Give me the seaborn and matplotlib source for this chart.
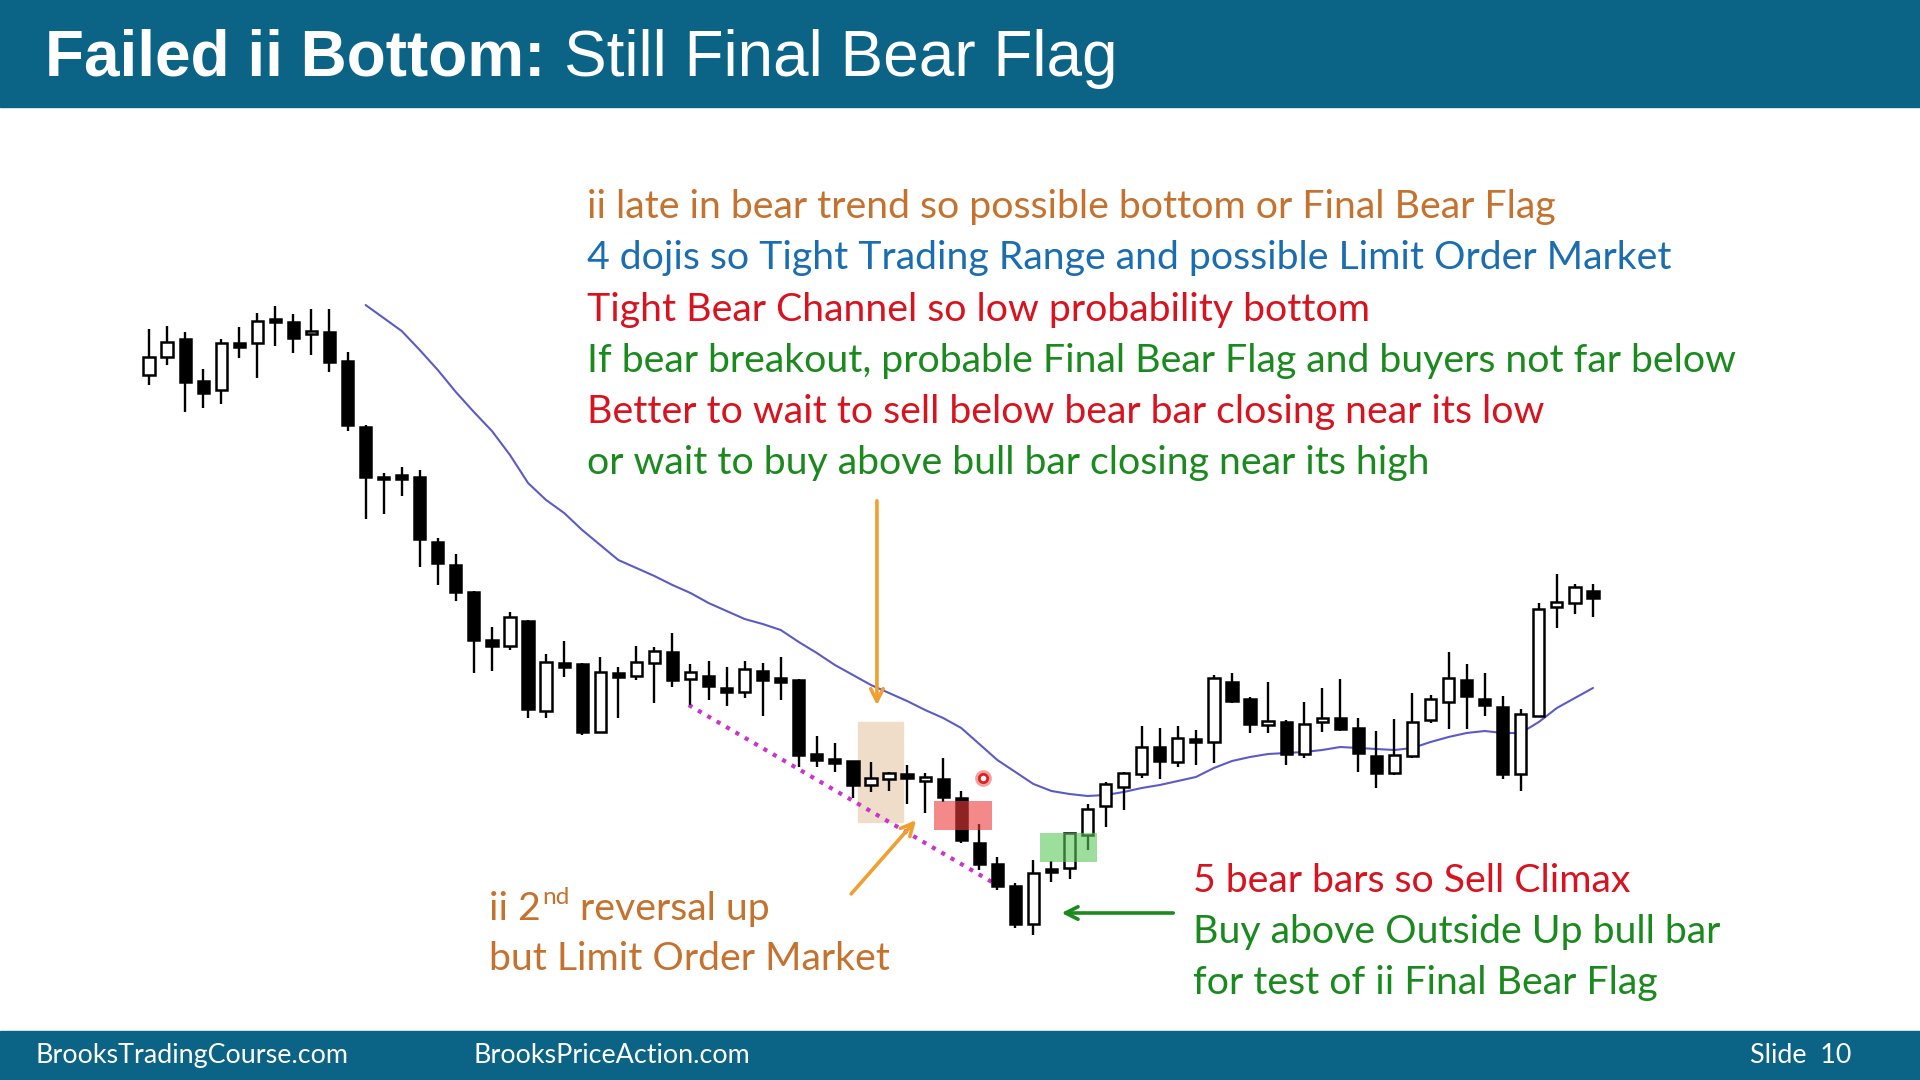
import numpy as np
import pandas as pd
import seaborn as sns
import matplotlib.pyplot as plt
from matplotlib.patches import Rectangle

# OHLC (price units = arbitrary points)
opens = [625, 643, 661, 619, 610, 657, 657, 681, 678, 666, 668, 639, 573, 523, 525, 523, 458,
         435, 408, 360, 354, 379, 289, 337, 336, 268, 327, 324, 337, 348, 321, 324, 312, 308,
         329, 322, 320, 246, 241, 239, 215, 221, 226, 219, 221, 202, 157, 136, 114, 76, 131,
         132, 165, 194, 213, 226, 253, 238, 261, 258, 318, 301, 275, 278, 246, 278, 282, 272,
         244, 227, 244, 280, 298, 320, 301, 293, 226, 284, 393, 397, 409]
highs = [671, 674, 668, 631, 661, 673, 687, 694, 686, 691, 691, 648, 575, 527, 533, 530, 462,
         446, 409, 373, 388, 380, 346, 359, 337, 343, 333, 354, 353, 367, 336, 339, 333, 339,
         337, 343, 321, 264, 257, 239, 238, 228, 235, 227, 242, 209, 176, 143, 117, 140, 139,
         167, 196, 218, 228, 274, 272, 274, 270, 325, 327, 303, 318, 280, 298, 312, 321, 282,
         269, 281, 307, 305, 348, 336, 327, 304, 291, 397, 426, 416, 416]
lows = [615, 635, 588, 592, 596, 642, 622, 654, 647, 645, 628, 569, 481, 486, 504, 433, 415,
        399, 327, 329, 350, 282, 282, 323, 265, 267, 282, 320, 297, 313, 295, 300, 294, 302,
        284, 300, 233, 233, 228, 202, 208, 209, 196, 187, 198, 157, 130, 110, 72, 65, 118,
        121, 150, 173, 190, 222, 221, 233, 235, 237, 297, 267, 267, 235, 242, 268, 269, 228,
        212, 225, 242, 277, 271, 271, 284, 221, 209, 284, 372, 386, 383]
closes = [643, 658, 618, 607, 657, 653, 679, 678, 662, 669, 638, 575, 523, 521, 521, 461, 437,
          408, 360, 354, 383, 291, 338, 333, 268, 328, 323, 338, 349, 320, 328, 314, 308, 331,
          320, 318, 245, 240, 237, 215, 222, 227, 222, 223, 203, 160, 136, 114, 76, 127, 128,
          167, 191, 216, 227, 253, 239, 262, 258, 322, 299, 276, 279, 246, 276, 282, 271, 247,
          227, 245, 278, 301, 322, 304, 295, 226, 286, 391, 398, 413, 402]

# 20 bar moving average, starting at bar 12
ma_start = 12
ma_values = [695, 682, 669, 650, 630, 608, 588, 569, 545, 517, 500, 487, 470, 455, 440, 432,
             424, 415, 407, 397, 389, 381, 376, 370, 358, 347, 335, 325, 315, 307, 299, 290,
             282, 272, 256, 240, 228, 216, 209, 206, 204, 205, 208, 212, 215, 219, 223, 232,
             239, 243, 246, 247, 248, 250, 253, 252, 251, 250, 252, 258, 263, 267, 269, 267,
             267, 278, 292, 302, 312]

top_lines = ["ii late in bear trend so possible bottom or Final Bear Flag",
             "4 dojis so Tight Trading Range and possible Limit Order Market",
             "Tight Bear Channel so low probability bottom",
             "If bear breakout, probable Final Bear Flag and buyers not far below",
             "Better to wait to sell below bear bar closing near its low",
             "or wait to buy above bull bar closing near its high"]
right_lines = ["5 bear bars so Sell Climax",
               "Buy above Outside Up bull bar",
               "for test of ii Final Bear Flag"]

ORANGE_TXT = '#C5722F'
BLUE_TXT = '#1A6DB0'
RED_TXT = '#D8121E'
GREEN_TXT = '#1A8A1E'
top_colors = [ORANGE_TXT, BLUE_TXT, RED_TXT, GREEN_TXT, RED_TXT, GREEN_TXT]
right_colors = [RED_TXT, GREEN_TXT, GREEN_TXT]
BAND = '#0B6385'

df = pd.DataFrame({'open': opens, 'high': highs, 'low': lows, 'close': closes})
df['bar'] = np.arange(len(df))
df['bull'] = df['close'] > df['open']
df['body_low'] = df[['open', 'close']].min(axis=1)
df['body_h'] = (df['close'] - df['open']).abs().clip(lower=2.5)

ma = pd.DataFrame({'bar': np.arange(ma_start, ma_start + len(ma_values)), 'ma': ma_values})

sns.set_style("white")
plt.rcParams['font.family'] = ['Lato', 'DejaVu Sans']

W, H = 1920, 1080
fig = plt.figure(figsize=(19.2, 10.8), dpi=100)
fx = lambda x: x / W
fy = lambda y: 1 - y / H

# header and footer bands
fig.patches.append(Rectangle((0, fy(107)), 1, 107 / H, transform=fig.transFigure, color=BAND, zorder=0))
fig.patches.append(Rectangle((0, 0), 1, (H - 1031) / H, transform=fig.transFigure, color=BAND, zorder=0))

ax = fig.add_axes([fx(100), fy(960), 1550 / W, 680 / H])
ax.set_xlim(-2.715, 83.16)
ax.set_ylim(40, 720)
ax.axis('off')

# box behind the 4 dojis
ax.add_patch(Rectangle((39.3, 178), 2.5, 100, color='#EFDDC9', zorder=1))

# magenta trend line of the bear channel
ax.plot([29.9, 46.8], [295, 117], color='#CC33CC', lw=3, ls=(0, (1, 1.6)), zorder=1.5)

# moving average
sns.lineplot(data=ma, x='bar', y='ma', ax=ax, color='#5B5BC8', lw=1.5, zorder=2)

# candles
ax.vlines(df['bar'], df['low'], df['high'], color='black', lw=1.7, zorder=3)
ax.bar(df['bar'], df['body_h'], bottom=df['body_low'], width=0.62,
       color=np.where(df['bull'], 'white', 'black'), edgecolor='black', linewidth=1.8, zorder=4)

# highlight boxes drawn over the bars
ax.add_patch(Rectangle((43.5, 170), 3.2, 29, color='#EE3B3B', alpha=0.6, lw=0, zorder=5))
ax.add_patch(Rectangle((49.36, 138), 3.16, 29, color='#5CC85C', alpha=0.6, lw=0, zorder=5))
ax.plot([46.2], [222], marker='o', ms=9, mfc='none', mec='#F4A0A0', mew=3, zorder=6)
ax.plot([46.2], [222], marker='o', ms=6, mfc='white', mec='#E02020', mew=2, zorder=6)

# arrows
arrow_or = dict(arrowstyle='->,head_length=0.9,head_width=0.45', color='#F0A030', lw=2.6)
ax.annotate('', xy=(40.33, 292), xytext=(40.33, 502), arrowprops=arrow_or)
ax.annotate('', xy=(42.6, 182), xytext=(38.8, 104), arrowprops=arrow_or)
ax.annotate('', xy=(50.4, 87), xytext=(56.9, 87),
            arrowprops=dict(arrowstyle='->,head_length=0.9,head_width=0.45', color=GREEN_TXT, lw=2.6))

# title
fig.text(fx(45), fy(76), "Failed ii Bottom:", color='white', fontsize=46, fontweight='bold',
         family=['Liberation Sans', 'DejaVu Sans'], va='baseline')
fig.text(fx(564), fy(76), "Still Final Bear Flag", color='white', fontsize=46,
         family=['Liberation Sans', 'DejaVu Sans'], va='baseline')

# annotation text
TXT = 28.3
for k, (line, c) in enumerate(zip(top_lines, top_colors)):
    fig.text(fx(587), fy(218 + 51.3 * k), line, color=c, fontsize=TXT, va='baseline')
for k, (line, c) in enumerate(zip(right_lines, right_colors)):
    fig.text(fx(1193), fy(892 + 50.8 * k), line, color=c, fontsize=TXT, va='baseline')

# "ii 2nd reversal up" with a superscript, pieces placed one after the other
renderer = fig.canvas.get_renderer()
t1 = fig.text(fx(489), fy(920), "ii 2", color=ORANGE_TXT, fontsize=TXT, va='baseline')
x_end = t1.get_window_extent(renderer).x1
t2 = fig.text(x_end / W + 0.001, fy(904), "nd", color=ORANGE_TXT, fontsize=TXT * 0.62, va='baseline')
x_end = t2.get_window_extent(renderer).x1
fig.text(x_end / W, fy(920), " reversal up", color=ORANGE_TXT, fontsize=TXT, va='baseline')
fig.text(fx(489), fy(970), "but Limit Order Market", color=ORANGE_TXT, fontsize=TXT, va='baseline')

# footer
fig.text(fx(35), fy(1063), "BrooksTradingCourse.com", color='white', fontsize=19.4, va='baseline')
fig.text(fx(474), fy(1063), "BrooksPriceAction.com", color='white', fontsize=19.4, va='baseline')
fig.text(fx(1851), fy(1063), "Slide  10", color='white', fontsize=19.4, va='baseline', ha='right')

fig.savefig('out.png', dpi=100, facecolor='white')
